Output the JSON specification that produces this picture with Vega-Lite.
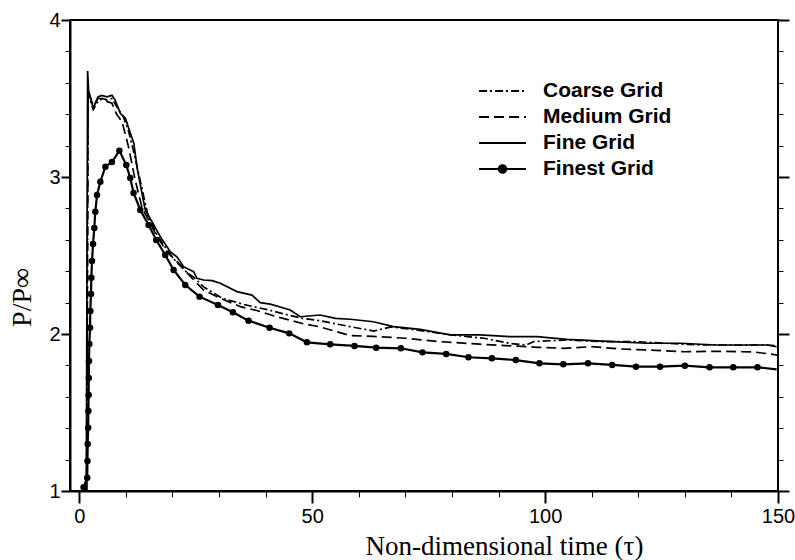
{
  "$schema": "https://vega.github.io/schema/vega-lite/v6.json",
  "width": 708,
  "height": 471,
  "autosize": {"type": "none"},
  "padding": {"left": 70, "top": 20, "right": 17, "bottom": 69},
  "background": "white",
  "config": {
    "view": {"stroke": "black", "strokeWidth": 2},
    "axis": {"grid": false, "domainColor": "black", "domainWidth": 2, "tickColor": "black", "labelColor": "black", "titleColor": "black", "labelFlush": false, "labelOverlap": false, "labelBound": false}
  },
  "data": {"values": [
    {"s": "Coarse Grid", "t": 1.55, "p": 1.0},
    {"s": "Coarse Grid", "t": 1.75, "p": 2.5},
    {"s": "Coarse Grid", "t": 1.9, "p": 3.55},
    {"s": "Coarse Grid", "t": 2.5, "p": 3.47},
    {"s": "Coarse Grid", "t": 3.0, "p": 3.43},
    {"s": "Coarse Grid", "t": 4.0, "p": 3.48},
    {"s": "Coarse Grid", "t": 5.0, "p": 3.5},
    {"s": "Coarse Grid", "t": 6.0, "p": 3.49},
    {"s": "Coarse Grid", "t": 7.0, "p": 3.5},
    {"s": "Coarse Grid", "t": 8.0, "p": 3.45},
    {"s": "Coarse Grid", "t": 9.5, "p": 3.38},
    {"s": "Coarse Grid", "t": 10.5, "p": 3.3},
    {"s": "Coarse Grid", "t": 12.0, "p": 3.12},
    {"s": "Coarse Grid", "t": 13.5, "p": 2.92},
    {"s": "Coarse Grid", "t": 14.7, "p": 2.76},
    {"s": "Coarse Grid", "t": 16.5, "p": 2.64},
    {"s": "Coarse Grid", "t": 18.5, "p": 2.55},
    {"s": "Coarse Grid", "t": 20.5, "p": 2.47},
    {"s": "Coarse Grid", "t": 22.8, "p": 2.4},
    {"s": "Coarse Grid", "t": 25.0, "p": 2.35},
    {"s": "Coarse Grid", "t": 26.7, "p": 2.3},
    {"s": "Coarse Grid", "t": 30.7, "p": 2.227},
    {"s": "Coarse Grid", "t": 35.7, "p": 2.185},
    {"s": "Coarse Grid", "t": 40.7, "p": 2.153},
    {"s": "Coarse Grid", "t": 43.6, "p": 2.13},
    {"s": "Coarse Grid", "t": 47.8, "p": 2.1},
    {"s": "Coarse Grid", "t": 51.6, "p": 2.085},
    {"s": "Coarse Grid", "t": 58.1, "p": 2.047},
    {"s": "Coarse Grid", "t": 63.2, "p": 2.019},
    {"s": "Coarse Grid", "t": 66.9, "p": 2.045},
    {"s": "Coarse Grid", "t": 72.6, "p": 2.025},
    {"s": "Coarse Grid", "t": 79.8, "p": 1.994},
    {"s": "Coarse Grid", "t": 86.9, "p": 1.973},
    {"s": "Coarse Grid", "t": 92.5, "p": 1.94},
    {"s": "Coarse Grid", "t": 96.0, "p": 1.93},
    {"s": "Coarse Grid", "t": 97.6, "p": 1.952},
    {"s": "Coarse Grid", "t": 104.7, "p": 1.962},
    {"s": "Coarse Grid", "t": 111.8, "p": 1.952},
    {"s": "Coarse Grid", "t": 118.9, "p": 1.952},
    {"s": "Coarse Grid", "t": 126.0, "p": 1.941},
    {"s": "Coarse Grid", "t": 133.3, "p": 1.93},
    {"s": "Coarse Grid", "t": 140.4, "p": 1.93},
    {"s": "Coarse Grid", "t": 147.6, "p": 1.93},
    {"s": "Coarse Grid", "t": 150.0, "p": 1.925},
    {"s": "Medium Grid", "t": 1.6, "p": 1.0},
    {"s": "Medium Grid", "t": 1.75, "p": 2.5},
    {"s": "Medium Grid", "t": 1.9, "p": 3.55},
    {"s": "Medium Grid", "t": 3.0, "p": 3.45},
    {"s": "Medium Grid", "t": 4.0, "p": 3.5},
    {"s": "Medium Grid", "t": 5.0, "p": 3.5},
    {"s": "Medium Grid", "t": 6.0, "p": 3.48},
    {"s": "Medium Grid", "t": 7.0, "p": 3.47},
    {"s": "Medium Grid", "t": 8.0, "p": 3.4},
    {"s": "Medium Grid", "t": 9.2, "p": 3.35},
    {"s": "Medium Grid", "t": 10.5, "p": 3.2},
    {"s": "Medium Grid", "t": 12.0, "p": 2.98},
    {"s": "Medium Grid", "t": 13.5, "p": 2.8},
    {"s": "Medium Grid", "t": 14.5, "p": 2.747},
    {"s": "Medium Grid", "t": 16.7, "p": 2.62},
    {"s": "Medium Grid", "t": 18.8, "p": 2.524},
    {"s": "Medium Grid", "t": 21.7, "p": 2.439},
    {"s": "Medium Grid", "t": 24.2, "p": 2.355},
    {"s": "Medium Grid", "t": 26.7, "p": 2.28},
    {"s": "Medium Grid", "t": 30.3, "p": 2.227},
    {"s": "Medium Grid", "t": 34.6, "p": 2.174},
    {"s": "Medium Grid", "t": 38.1, "p": 2.15},
    {"s": "Medium Grid", "t": 42.4, "p": 2.11},
    {"s": "Medium Grid", "t": 45.0, "p": 2.09},
    {"s": "Medium Grid", "t": 48.1, "p": 2.065},
    {"s": "Medium Grid", "t": 51.7, "p": 2.045},
    {"s": "Medium Grid", "t": 58.1, "p": 1.99},
    {"s": "Medium Grid", "t": 63.0, "p": 1.985},
    {"s": "Medium Grid", "t": 70.0, "p": 1.973},
    {"s": "Medium Grid", "t": 77.0, "p": 1.952},
    {"s": "Medium Grid", "t": 86.0, "p": 1.935},
    {"s": "Medium Grid", "t": 93.0, "p": 1.924},
    {"s": "Medium Grid", "t": 98.5, "p": 1.915},
    {"s": "Medium Grid", "t": 104.0, "p": 1.909},
    {"s": "Medium Grid", "t": 110.0, "p": 1.919},
    {"s": "Medium Grid", "t": 116.0, "p": 1.905},
    {"s": "Medium Grid", "t": 122.0, "p": 1.898},
    {"s": "Medium Grid", "t": 130.0, "p": 1.887},
    {"s": "Medium Grid", "t": 138.0, "p": 1.89},
    {"s": "Medium Grid", "t": 145.0, "p": 1.885},
    {"s": "Medium Grid", "t": 150.0, "p": 1.866},
    {"s": "Fine Grid", "t": 1.5, "p": 1.0},
    {"s": "Fine Grid", "t": 1.78, "p": 3.675},
    {"s": "Fine Grid", "t": 2.0, "p": 3.55},
    {"s": "Fine Grid", "t": 3.0, "p": 3.437},
    {"s": "Fine Grid", "t": 4.0, "p": 3.51},
    {"s": "Fine Grid", "t": 4.8, "p": 3.52},
    {"s": "Fine Grid", "t": 5.9, "p": 3.51},
    {"s": "Fine Grid", "t": 7.0, "p": 3.52},
    {"s": "Fine Grid", "t": 7.7, "p": 3.49},
    {"s": "Fine Grid", "t": 8.8, "p": 3.406},
    {"s": "Fine Grid", "t": 9.9, "p": 3.374},
    {"s": "Fine Grid", "t": 10.6, "p": 3.31},
    {"s": "Fine Grid", "t": 11.7, "p": 3.215},
    {"s": "Fine Grid", "t": 12.4, "p": 3.06},
    {"s": "Fine Grid", "t": 13.45, "p": 2.896},
    {"s": "Fine Grid", "t": 14.16, "p": 2.79},
    {"s": "Fine Grid", "t": 15.6, "p": 2.715},
    {"s": "Fine Grid", "t": 17.38, "p": 2.62},
    {"s": "Fine Grid", "t": 19.53, "p": 2.524},
    {"s": "Fine Grid", "t": 21.0, "p": 2.49},
    {"s": "Fine Grid", "t": 22.38, "p": 2.429},
    {"s": "Fine Grid", "t": 24.53, "p": 2.397},
    {"s": "Fine Grid", "t": 25.26, "p": 2.355},
    {"s": "Fine Grid", "t": 26.67, "p": 2.344},
    {"s": "Fine Grid", "t": 28.5, "p": 2.34},
    {"s": "Fine Grid", "t": 30.26, "p": 2.323},
    {"s": "Fine Grid", "t": 33.84, "p": 2.27},
    {"s": "Fine Grid", "t": 37.06, "p": 2.248},
    {"s": "Fine Grid", "t": 38.84, "p": 2.2},
    {"s": "Fine Grid", "t": 41.0, "p": 2.19},
    {"s": "Fine Grid", "t": 45.28, "p": 2.153},
    {"s": "Fine Grid", "t": 47.42, "p": 2.11},
    {"s": "Fine Grid", "t": 51.7, "p": 2.121},
    {"s": "Fine Grid", "t": 55.0, "p": 2.1},
    {"s": "Fine Grid", "t": 58.15, "p": 2.094},
    {"s": "Fine Grid", "t": 63.15, "p": 2.078},
    {"s": "Fine Grid", "t": 67.45, "p": 2.047},
    {"s": "Fine Grid", "t": 73.18, "p": 2.03},
    {"s": "Fine Grid", "t": 79.6, "p": 1.994},
    {"s": "Fine Grid", "t": 86.05, "p": 1.994},
    {"s": "Fine Grid", "t": 92.5, "p": 1.983},
    {"s": "Fine Grid", "t": 98.2, "p": 1.983},
    {"s": "Fine Grid", "t": 104.7, "p": 1.966},
    {"s": "Fine Grid", "t": 114.7, "p": 1.952},
    {"s": "Fine Grid", "t": 121.8, "p": 1.941},
    {"s": "Fine Grid", "t": 129.0, "p": 1.941},
    {"s": "Fine Grid", "t": 136.8, "p": 1.93},
    {"s": "Fine Grid", "t": 147.6, "p": 1.93},
    {"s": "Fine Grid", "t": 149.7, "p": 1.919},
    {"s": "Finest Grid", "t": 0.92, "p": 1.024},
    {"s": "Finest Grid", "t": 1.7, "p": 1.085},
    {"s": "Finest Grid", "t": 1.75, "p": 1.191},
    {"s": "Finest Grid", "t": 1.8, "p": 1.299},
    {"s": "Finest Grid", "t": 1.9, "p": 1.403},
    {"s": "Finest Grid", "t": 1.95, "p": 1.51},
    {"s": "Finest Grid", "t": 2.0, "p": 1.611},
    {"s": "Finest Grid", "t": 2.04, "p": 1.72},
    {"s": "Finest Grid", "t": 2.08, "p": 1.828},
    {"s": "Finest Grid", "t": 2.15, "p": 1.936},
    {"s": "Finest Grid", "t": 2.3, "p": 2.04},
    {"s": "Finest Grid", "t": 2.36, "p": 2.146},
    {"s": "Finest Grid", "t": 2.5, "p": 2.255},
    {"s": "Finest Grid", "t": 2.58, "p": 2.359},
    {"s": "Finest Grid", "t": 2.73, "p": 2.465},
    {"s": "Finest Grid", "t": 2.94, "p": 2.573},
    {"s": "Finest Grid", "t": 3.22, "p": 2.675},
    {"s": "Finest Grid", "t": 3.43, "p": 2.779},
    {"s": "Finest Grid", "t": 3.8, "p": 2.885},
    {"s": "Finest Grid", "t": 4.51, "p": 2.97},
    {"s": "Finest Grid", "t": 5.6, "p": 3.066},
    {"s": "Finest Grid", "t": 7.0, "p": 3.095},
    {"s": "Finest Grid", "t": 8.6, "p": 3.168},
    {"s": "Finest Grid", "t": 10.09, "p": 3.076},
    {"s": "Finest Grid", "t": 10.94, "p": 2.994},
    {"s": "Finest Grid", "t": 11.65, "p": 2.898},
    {"s": "Finest Grid", "t": 13.09, "p": 2.79},
    {"s": "Finest Grid", "t": 14.87, "p": 2.694},
    {"s": "Finest Grid", "t": 16.52, "p": 2.599},
    {"s": "Finest Grid", "t": 18.45, "p": 2.503},
    {"s": "Finest Grid", "t": 20.24, "p": 2.408},
    {"s": "Finest Grid", "t": 22.75, "p": 2.312},
    {"s": "Finest Grid", "t": 25.82, "p": 2.238},
    {"s": "Finest Grid", "t": 29.76, "p": 2.185},
    {"s": "Finest Grid", "t": 32.98, "p": 2.138},
    {"s": "Finest Grid", "t": 36.33, "p": 2.085},
    {"s": "Finest Grid", "t": 40.84, "p": 2.04},
    {"s": "Finest Grid", "t": 45.06, "p": 2.004},
    {"s": "Finest Grid", "t": 48.86, "p": 1.947},
    {"s": "Finest Grid", "t": 53.86, "p": 1.934},
    {"s": "Finest Grid", "t": 59.08, "p": 1.924},
    {"s": "Finest Grid", "t": 63.73, "p": 1.913},
    {"s": "Finest Grid", "t": 69.03, "p": 1.909},
    {"s": "Finest Grid", "t": 73.67, "p": 1.883},
    {"s": "Finest Grid", "t": 78.76, "p": 1.873},
    {"s": "Finest Grid", "t": 83.54, "p": 1.852},
    {"s": "Finest Grid", "t": 88.56, "p": 1.845},
    {"s": "Finest Grid", "t": 93.71, "p": 1.834},
    {"s": "Finest Grid", "t": 98.78, "p": 1.813},
    {"s": "Finest Grid", "t": 103.9, "p": 1.807},
    {"s": "Finest Grid", "t": 109.2, "p": 1.813},
    {"s": "Finest Grid", "t": 114.4, "p": 1.803},
    {"s": "Finest Grid", "t": 119.5, "p": 1.792},
    {"s": "Finest Grid", "t": 124.7, "p": 1.792},
    {"s": "Finest Grid", "t": 130.0, "p": 1.798},
    {"s": "Finest Grid", "t": 135.3, "p": 1.788},
    {"s": "Finest Grid", "t": 140.4, "p": 1.788},
    {"s": "Finest Grid", "t": 145.6, "p": 1.788},
    {"s": "Finest Grid", "t": 149.7, "p": 1.775}
  ]},
  "resolve": {"axis": {"x": "independent", "y": "independent"}},
  "layer": [
    {
      "transform": [{"filter": "datum.s === 'Coarse Grid' || datum.s === 'Medium Grid'"}],
      "mark": {"type": "line", "color": "black", "strokeWidth": 1.7, "clip": true},
      "encoding": {
        "x": {"field": "t", "type": "quantitative",
          "scale": {"domain": [-2, 150], "nice": false, "zero": false},
          "axis": {
            "orient": "bottom",
            "values": [0, 50, 100, 150], "format": "d",
            "tickSize": 12, "tickWidth": 2,
            "labelFont": "Liberation Sans", "labelFontSize": 20, "labelPadding": 3,
            "title": "Non-dimensional time (τ)",
            "titleFont": "Liberation Serif", "titleFontSize": 27, "titleFontWeight": "normal", "titlePadding": 7, "titleX": 434, "titleColor": "black"
          }
        },
        "y": {"field": "p", "type": "quantitative",
          "scale": {"domain": [1, 4], "nice": false, "zero": false},
          "axis": {
            "orient": "left",
            "values": [1, 2, 3, 4], "format": "d",
            "tickSize": 9, "tickWidth": 2,
            "labelFont": "Liberation Sans", "labelFontSize": 20, "labelPadding": 1,
            "title": "P/P∞",
            "titleFont": "Liberation Serif", "titleFontSize": 28, "titleFontWeight": "normal", "titlePadding": 12, "titleY": 277, "titleColor": "black"
          }
        },
        "strokeDash": {"field": "s", "type": "nominal",
          "scale": {"domain": ["Coarse Grid", "Medium Grid", "Fine Grid", "Finest Grid"],
                    "range": [[8, 3, 2, 3], [10, 5], [1, 0], [1, 0]]},
          "legend": {
            "orient": "none", "legendX": 408, "legendY": 58, "title": null,
            "symbolType": "stroke", "symbolSize": 2200, "symbolStrokeWidth": 2, "symbolStrokeColor": "black",
            "labelFont": "Liberation Sans", "labelFontWeight": "bold", "labelFontSize": 21, "labelColor": "black",
            "labelOffset": 16, "rowPadding": 0, "clipHeight": 26,
            "encoding": {"symbols": {
              "shape": {"condition": {"test": "datum.value === 'Finest Grid'", "value": "M-1,0H1M0.16,0A0.16,0.16 0 1 1 -0.16,0A0.16,0.16 0 1 1 0.16,0"}, "value": "stroke"},
              "fill": {"condition": {"test": "datum.value === 'Finest Grid'", "value": "black"}, "value": "transparent"},
              "stroke": {"value": "black"},
              "strokeWidth": {"value": 2}
            }}
          }
        }
      }
    },
    {
      "transform": [{"filter": "datum.s === 'Fine Grid'"}],
      "mark": {"type": "line", "color": "black", "strokeWidth": 1.7, "clip": true},
      "encoding": {
        "x": {"field": "t", "type": "quantitative",
          "axis": {"orient": "bottom", "values": [0, 10, 20, 30, 40, 50, 60, 70, 80, 90, 100, 110, 120, 130, 140, 150],
                   "labels": false, "title": null, "domain": false, "tickSize": 6, "tickWidth": 1}},
        "y": {"field": "p", "type": "quantitative",
          "axis": {"orient": "left", "values": [1, 1.2, 1.4, 1.6, 1.8, 2, 2.2, 2.4, 2.6, 2.8, 3, 3.2, 3.4, 3.6, 3.8, 4],
                   "labels": false, "title": null, "domain": false, "tickSize": 5, "tickWidth": 1}}
      }
    },
    {
      "transform": [{"filter": "datum.s === 'Finest Grid'"}],
      "mark": {"type": "line", "color": "black", "strokeWidth": 2.2, "clip": true},
      "encoding": {
        "x": {"field": "t", "type": "quantitative", "axis": null},
        "y": {"field": "p", "type": "quantitative",
          "axis": {"orient": "right", "values": [1, 2, 3, 4],
                   "labels": false, "title": null, "domain": false, "tickSize": 11, "tickWidth": 2}}
      }
    },
    {
      "transform": [{"filter": "datum.s === 'Finest Grid' && datum.t < 149"}],
      "mark": {"type": "point", "filled": true, "color": "black", "size": 42, "opacity": 1},
      "encoding": {
        "x": {"field": "t", "type": "quantitative", "axis": null},
        "y": {"field": "p", "type": "quantitative",
          "axis": {"orient": "right", "values": [1, 1.2, 1.4, 1.6, 1.8, 2, 2.2, 2.4, 2.6, 2.8, 3, 3.2, 3.4, 3.6, 3.8, 4],
                   "labels": false, "title": null, "domain": false, "tickSize": 5, "tickWidth": 1}}
      }
    }
  ]
}
